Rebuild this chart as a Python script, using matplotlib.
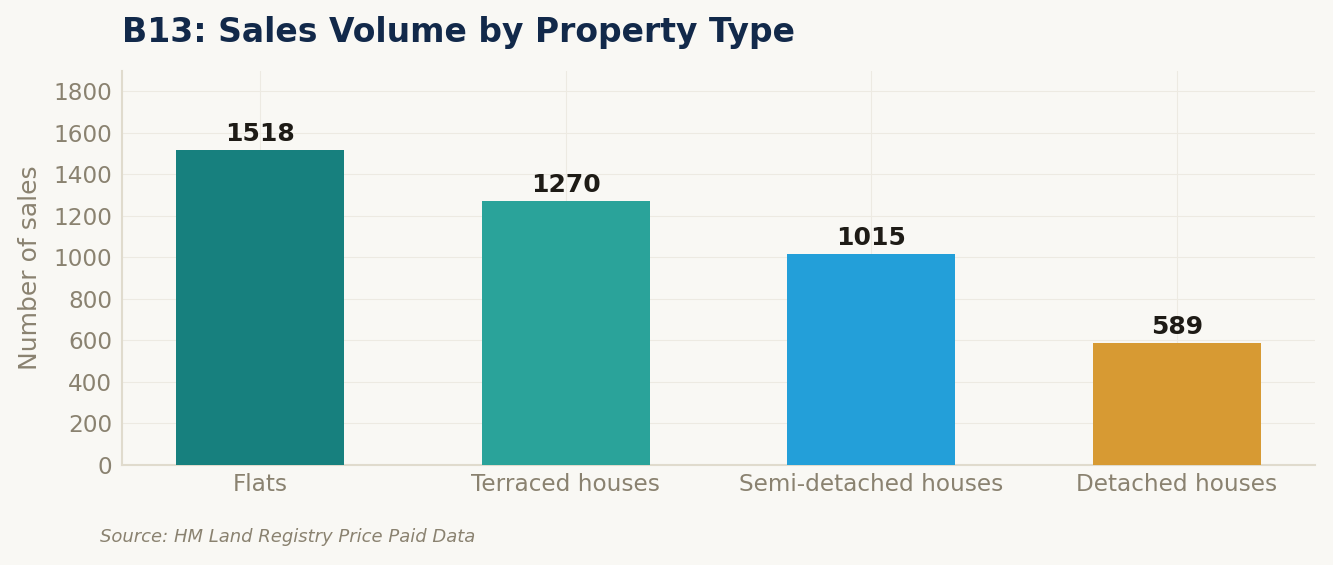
import matplotlib
matplotlib.use("Agg")
import matplotlib.pyplot as plt

# data
categories = ["Flats", "Terraced houses", "Semi-detached houses", "Detached houses"]
sales = [1518, 1270, 1015, 589]
bar_colors = ["#17807E", "#2AA39A", "#239FD9", "#D79A33"]

bg = "#F9F8F4"
muted = "#8A8270"

fig = plt.figure(figsize=(13.33, 5.65), dpi=100, facecolor=bg)
ax = fig.add_axes([0.0915, 0.177, 0.895, 0.697], facecolor=bg)

x = range(len(categories))
bars = ax.bar(x, sales, width=0.55, color=bar_colors, zorder=3)

# value labels above bars
for b, v in zip(bars, sales):
    ax.annotate(str(v), (b.get_x() + b.get_width() / 2, v), xytext=(0, 3),
                textcoords="offset points", ha="center", va="bottom",
                fontsize=18, fontweight="bold", color="#1E1B16")

ax.set_xticks(list(x))
ax.set_xticklabels(categories)
ax.set_ylim(0, max(sales) * 1.25)
ax.set_yticks(range(0, 2000, 200))

ax.grid(True, color="#EDEAE2", linewidth=0.8, zorder=0)
for s in ["top", "right"]:
    ax.spines[s].set_visible(False)
for s in ["left", "bottom"]:
    ax.spines[s].set_color("#E0DBCD")
    ax.spines[s].set_linewidth(1.5)

ax.tick_params(axis="both", length=0, labelsize=16.7, labelcolor=muted)
ax.tick_params(axis="y", pad=7)
ax.tick_params(axis="x", pad=6)
ax.set_ylabel("Number of sales", fontsize=18, color=muted, labelpad=8)

fig.text(0.0915, 0.925, "B13: Sales Volume by Property Type", fontsize=23.8,
         fontweight="bold", color="#12294A", ha="left", va="baseline")
fig.text(0.075, 0.04, "Source: HM Land Registry Price Paid Data", fontsize=13,
         style="italic", color=muted, ha="left", va="baseline")

fig.savefig("out.png", dpi=100, facecolor=bg)
